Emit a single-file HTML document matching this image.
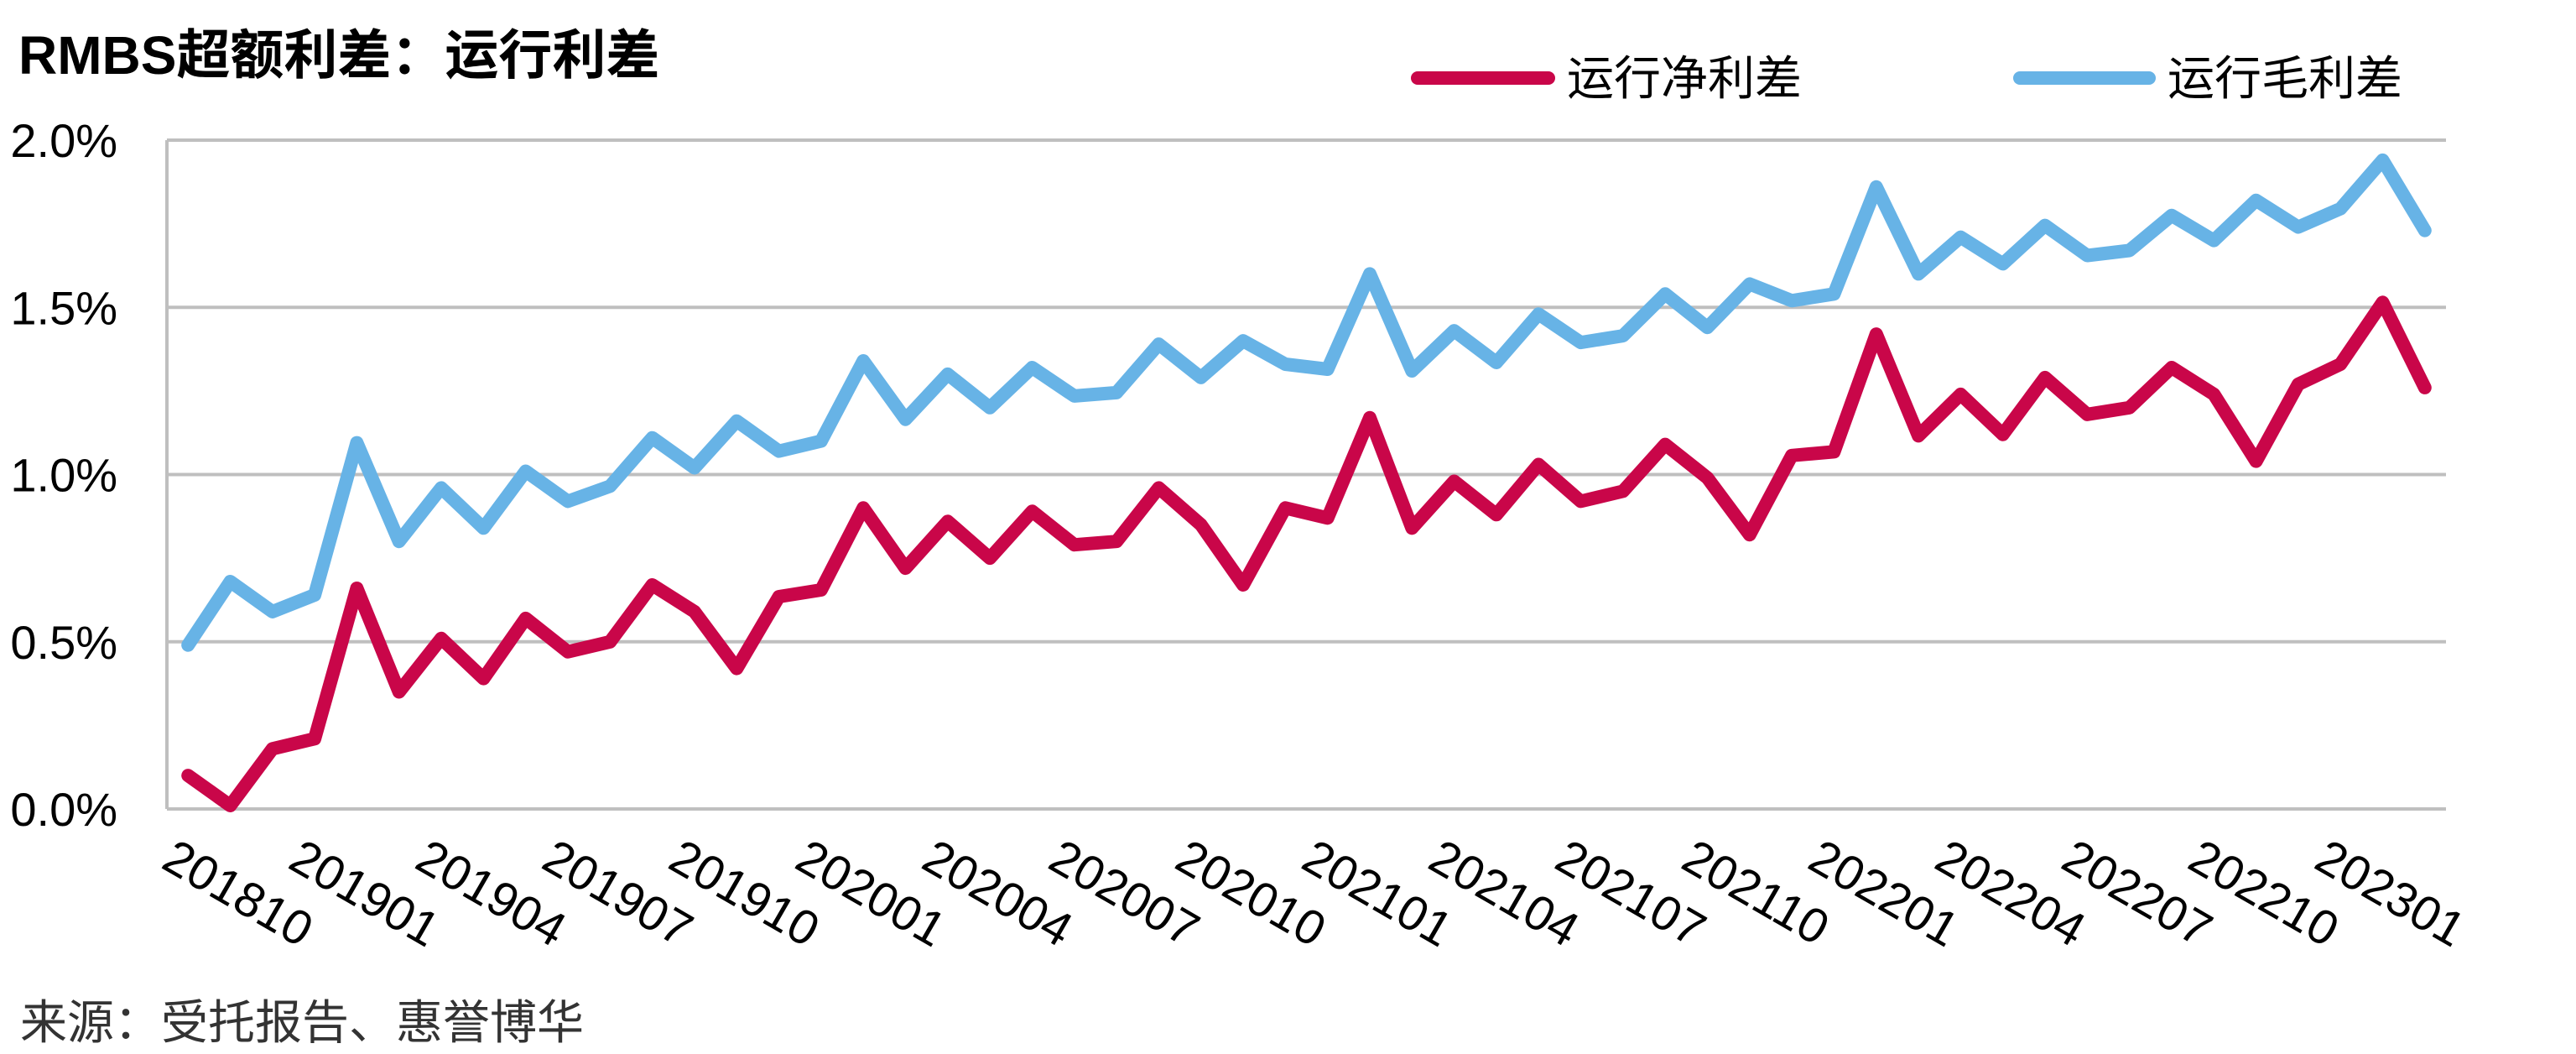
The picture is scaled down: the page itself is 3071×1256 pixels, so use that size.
<!DOCTYPE html>
<html><head><meta charset="utf-8"><style>
html,body{margin:0;padding:0;background:#fff;}
svg{display:block;font-family:"Liberation Sans","Noto Sans CJK SC",sans-serif;}
</style></head><body>
<svg id="chart" width="3071" height="1256" viewBox="0 0 3071 1256" xmlns="http://www.w3.org/2000/svg">
<text x="22" y="88" font-size="64" font-weight="bold" fill="#000">RMBS超额利差：运行利差</text>
<g>
<g>
<line x1="1690" y1="93" x2="1846" y2="93" stroke="#C90649" stroke-width="16" stroke-linecap="round"/>
<text x="1868" y="113" font-size="56" fill="#000">运行净利差</text>
</g>
<g>
<line x1="2408" y1="93" x2="2562" y2="93" stroke="#67B3E6" stroke-width="16" stroke-linecap="round"/>
<text x="2584" y="113" font-size="56" fill="#000">运行毛利差</text>
</g>
</g>
<g id="grid"></g>
<g id="yticks"></g>
<g id="xticks"></g>
<g id="series"></g>
<text x="24" y="1238" font-size="56" fill="#333">来源：受托报告、惠誉博华</text>
</svg>
<script>
const categories = (function(){const a=[];let y=2018,m=10;for(let i=0;i<54;i++){a.push(String(y)+String(m).padStart(2,'0'));m++;if(m>12){m=1;y++;}}return a;})();
const netSpread = [0.10,0.01,0.18,0.21,0.66,0.35,0.51,0.39,0.57,0.47,0.50,0.67,0.59,0.42,0.635,0.655,0.90,0.72,0.86,0.75,0.89,0.79,0.80,0.96,0.85,0.67,0.90,0.87,1.17,0.84,0.98,0.88,1.03,0.92,0.95,1.09,0.99,0.82,1.057,1.068,1.42,1.116,1.24,1.12,1.29,1.18,1.20,1.32,1.24,1.04,1.27,1.33,1.515,1.26];
const grossSpread = [0.49,0.68,0.59,0.64,1.095,0.80,0.96,0.84,1.01,0.92,0.965,1.11,1.02,1.16,1.07,1.10,1.34,1.165,1.30,1.20,1.32,1.235,1.245,1.39,1.29,1.40,1.33,1.315,1.60,1.31,1.43,1.335,1.48,1.395,1.415,1.54,1.44,1.57,1.52,1.54,1.86,1.60,1.71,1.63,1.745,1.655,1.67,1.775,1.70,1.82,1.74,1.795,1.94,1.73];
const yTicks = [0,0.5,1.0,1.5,2.0];
const yTickLabels = ["0.0%","0.5%","1.0%","1.5%","2.0%"];

const NS="http://www.w3.org/2000/svg";
const L=199,R=2916,T=167,B=964,yMax=2.0;
const step=(R-L)/categories.length;
function xs(i){return L+step*(i+0.5);}
function ys(v){return B-(v/yMax)*(B-T);}
function mk(tag,attrs,parent){const e=document.createElementNS(NS,tag);for(const k in attrs)e.setAttribute(k,attrs[k]);parent.appendChild(e);return e;}

const grid=document.getElementById('grid');
yTicks.forEach((v,i)=>{
  const l=mk('line',{x1:L,x2:R,y1:ys(v),y2:ys(v),stroke:'#BFBFBF','stroke-width':4},grid);
  
  
});
const ax=mk('line',{x1:L,x2:L,y1:T,y2:B,stroke:'#BFBFBF','stroke-width':4},grid);



const yt=document.getElementById('yticks');
yTicks.forEach((v,i)=>{
  const t=mk('text',{x:140,y:ys(v)+20,'text-anchor':'end','font-size':56,fill:'#000'},yt);
  t.textContent=yTickLabels[i];
  
  
});

const xt=document.getElementById('xticks');
categories.forEach((c,i)=>{
  if(i%3!==0)return;
  const x=xs(i)-34,y=1033;
  const t=mk('text',{x:x,y:y,'font-size':58,fill:'#000',transform:'rotate(30 '+x+' '+y+')'},xt);
  t.textContent=c;
  
  
});

const sg=document.getElementById('series');
function drawLine(vals,color,name){
  const pts=vals.map((v,i)=>xs(i).toFixed(1)+','+ys(v).toFixed(1)).join(' ');
  const p=mk('polyline',{points:pts,fill:'none',stroke:color,'stroke-width':16,'stroke-linejoin':'round','stroke-linecap':'round'},sg);
  
  
}
drawLine(grossSpread,'#67B3E6','gross-spread-line');
drawLine(netSpread,'#C90649','net-spread-line');
</script>
</body></html>
